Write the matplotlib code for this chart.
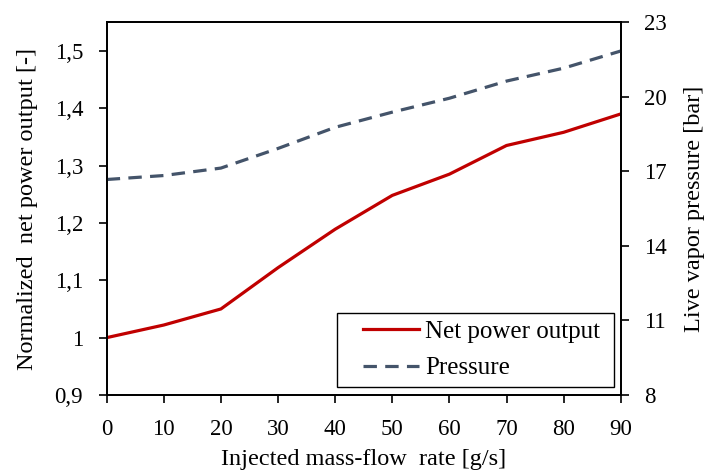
import matplotlib
matplotlib.use('Agg')
import matplotlib.pyplot as plt
from matplotlib.legend_handler import HandlerLine2D

# data
flow = [0, 10, 20, 30, 40, 50, 60, 70, 80, 90]
net_power = [1.0, 1.022, 1.05, 1.122, 1.189, 1.248, 1.285, 1.335, 1.358, 1.39]
pressure = [16.67, 16.83, 17.13, 17.92, 18.77, 19.38, 19.94, 20.63, 21.15, 21.84]

x_ticks = [0, 10, 20, 30, 40, 50, 60, 70, 80, 90]
left_ticks = [0.9, 1.0, 1.1, 1.2, 1.3, 1.4, 1.5]
left_labels = ['0,9', '1', '1,1', '1,2', '1,3', '1,4', '1,5']
right_ticks = [8, 11, 14, 17, 20, 23]

plt.rcParams['font.family'] = ['Liberation Serif', 'DejaVu Serif']

fig = plt.figure(figsize=(7.09, 4.74), dpi=100)
ax = fig.add_axes([0.1505, 0.1667, 0.725, 0.7865])
ax2 = ax.twinx()

l1, = ax.plot(flow, net_power, color='#C00000', lw=2.3, label='Net power output ')
l2, = ax2.plot(flow, pressure, color='#44546A', lw=2.3, ls=(0, (4.2, 2.6)),
               label='Pressure')

ax.set_xlim(0, 90)
ax.set_ylim(0.9, 1.55)
ax2.set_ylim(8, 23)
ax.set_xticks(x_ticks)
ax.set_yticks(left_ticks)
ax.set_yticklabels(left_labels)
ax2.set_yticks(right_ticks)

for a in (ax, ax2):
    a.tick_params(direction='out', length=6, width=1.2, colors='black',
                  labelsize=16.5, pad=11)
    for s in a.spines.values():
        s.set_linewidth(1.3)

ax.set_xlabel('Injected mass-flow  rate [g/s]', fontsize=17.5)
ax.set_ylabel('Normalized  net power output [-]', fontsize=17.5)
ax2.set_ylabel('Live vapor pressure [bar]', fontsize=17.5)
ax.xaxis.set_label_coords(0.5, -0.145)
ax.yaxis.set_label_coords(-0.134, 0.5)
ax2.yaxis.set_label_coords(1.123, 0.5)

# legend handles start a bit in from the frame, like the original
pad_handler = HandlerLine2D(xpad=0.74)
leg = ax2.legend(handles=[l1, l2], loc='lower right', bbox_to_anchor=(0.986, 0.022),
                 borderaxespad=0, fancybox=False, framealpha=1, edgecolor='black',
                 handlelength=3.0, handletextpad=0.23, fontsize=18,
                 borderpad=0.3, labelspacing=0.55,
                 handler_map={l1: pad_handler, l2: pad_handler})
leg.get_frame().set_linewidth(1.0)

fig.savefig('out.png', dpi=100)
plt.close(fig)
